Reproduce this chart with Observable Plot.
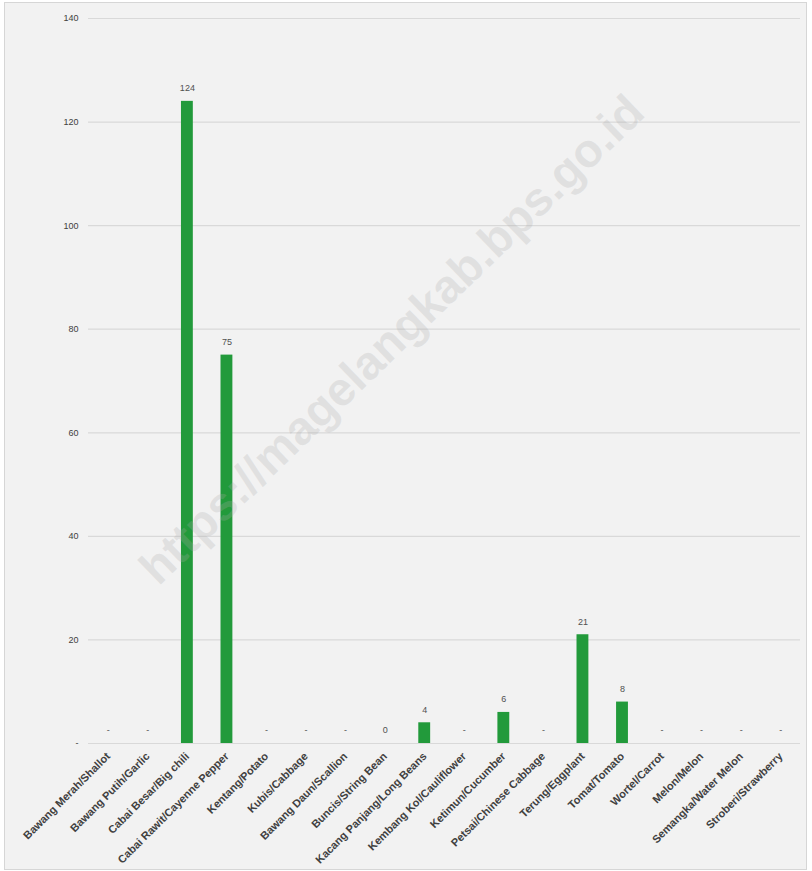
<!DOCTYPE html>
<html>
<head>
<meta charset="utf-8">
<script src="https://cdn.jsdelivr.net/npm/d3@7"></script>
<script src="https://cdn.jsdelivr.net/npm/@observablehq/plot@0.6"></script>
<style>
  html, body { margin: 0; padding: 0; background: #ffffff; }
  #wrap { position: relative; width: 812px; height: 871px; overflow: hidden; }
  #frame { position: absolute; left: 4px; top: 2px; width: 803px; height: 868px; background: #f2f2f2; border: 1px solid #d6d6d6; box-sizing: border-box; }
  #chart { position: absolute; left: 0; top: 0; }
  #wm { position: absolute; font-family: "Liberation Sans", Arial, sans-serif; font-weight: bold; font-size: 47px; color: rgba(170,170,170,0.25); transform: rotate(-44deg); transform-origin: left top; white-space: nowrap; pointer-events: none; }
</style>
</head>
<body>
<div id="wrap">
  <div id="frame"></div>
  <div id="chart"></div>
  <div id="wm" style="top:555px;left:128px;">https://magelangkab.bps.go.id</div>
</div>
<script>
const categories = [
  "Bawang Merah/Shallot", "Bawang Putih/Garlic", "Cabai Besar/Big chili",
  "Cabai Rawit/Cayenne Pepper", "Kentang/Potato", "Kubis/Cabbage",
  "Bawang Daun/Scallion", "Buncis/String Bean", "Kacang Panjang/Long Beans",
  "Kembang Kol/Cauliflower", "Ketimun/Cucumber", "Petsai/Chinese Cabbage",
  "Terung/Eggplant", "Tomat/Tomato", "Wortel/Carrot", "Melon/Melon",
  "Semangka/Water Melon", "Stroberi/Strawberry"
];
const values = [null, null, 124, 75, null, null, null, 0, 4, null, 6, null, 21, 8, null, null, null, null];
const yTicks = [0, 20, 40, 60, 80, 100, 120, 140];

const data = categories.map((c, i) => ({category: c, value: values[i]}));

const chart = Plot.plot({
  width: 812,
  height: 871,
  marginTop: 18,
  marginBottom: 128,
  marginLeft: 88,
  marginRight: 12,
  style: {background: "transparent", fontFamily: "'Liberation Sans', Arial, sans-serif", color: "#404040"},
  x: {domain: categories, paddingInner: 0.7, paddingOuter: 0.35, round: false, label: null},
  y: {domain: [0, 140], label: null},
  marks: [
    Plot.gridY(yTicks, {stroke: "#d9d9d9", strokeOpacity: 1, strokeWidth: 1.2}),
    Plot.axisY(yTicks, {tickSize: 0, tickPadding: 10, fontSize: 9, tickFormat: d => d === 0 ? "-" : d, fill: "#404040"}),
    Plot.barY(data.filter(d => d.value != null && d.value > 0), {x: "category", y: "value", fill: "#229a3b"}),
    Plot.text(data, {x: "category", y: d => d.value ?? 0, text: d => d.value == null ? "-" : String(d.value), dy: -13, fontSize: 9, fill: "#505050"}),
    Plot.axisX({tickSize: 0, tickPadding: 11, tickRotate: -45, fontSize: 11, fontWeight: "bold", fill: "#404040"})
  ]
});
document.getElementById("chart").appendChild(chart);
</script>
</body>
</html>
